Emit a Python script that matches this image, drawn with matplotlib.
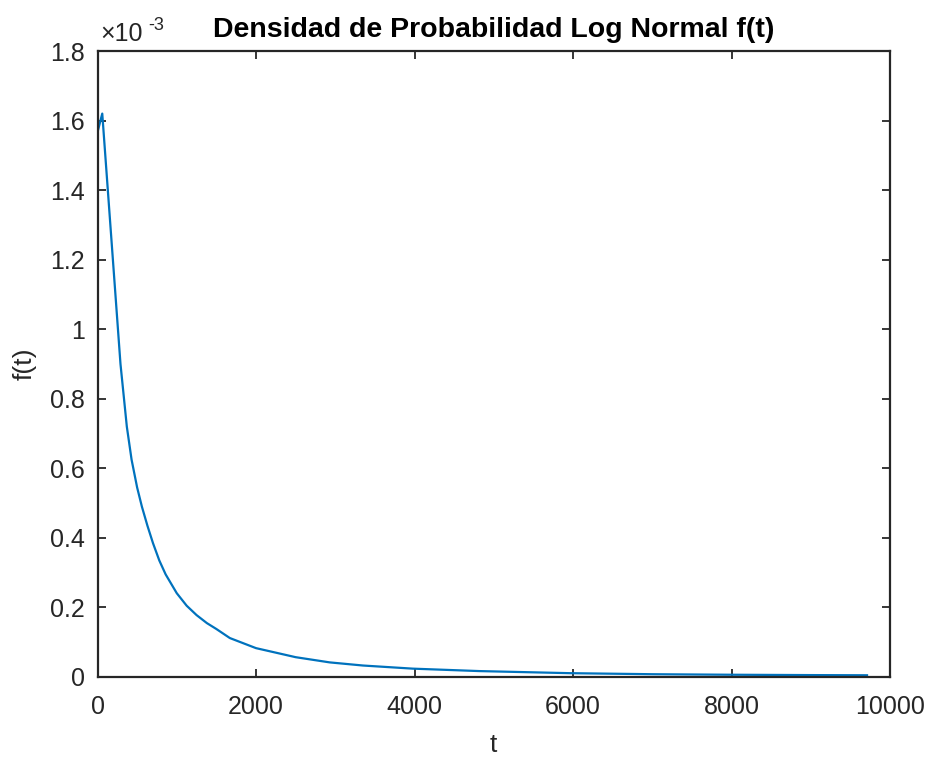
import matplotlib.pyplot as plt
from matplotlib import font_manager as fm
from matplotlib.ticker import FuncFormatter

# valores (f en unidades de 1e-3)
t = [0, 4, 60, 290, 330, 370, 430, 500, 560, 630, 700, 780, 860, 1000, 1125,
     1250, 1380, 1500, 1670, 2000, 2500, 2930, 3350, 3980, 4820, 5960, 7000,
     8000, 9000, 9710]
f_e3 = [0, 1.57, 1.62, 0.90, 0.81, 0.72, 0.625, 0.545, 0.49, 0.435, 0.385,
        0.335, 0.295, 0.241, 0.205, 0.178, 0.155, 0.138, 0.112, 0.083, 0.057,
        0.042, 0.033, 0.024, 0.017, 0.011, 0.008, 0.0065, 0.0055, 0.005]
f = [v * 1e-3 for v in f_e3]

xticks = [0, 2000, 4000, 6000, 8000, 10000]
yticks = [0, 0.2e-3, 0.4e-3, 0.6e-3, 0.8e-3, 1e-3, 1.2e-3, 1.4e-3, 1.6e-3, 1.8e-3]

# buscar Liberation Sans normal (no la Narrow)
def fuente(nombre):
    for p in fm.findSystemFonts():
        if p.endswith(nombre):
            return p
    return None

reg = fuente('LiberationSans-Regular.ttf')
neg = fuente('LiberationSans-Bold.ttf')
fp = fm.FontProperties(fname=reg) if reg else fm.FontProperties(family='Liberation Sans')
fpb = fm.FontProperties(fname=neg) if neg else fm.FontProperties(family='Liberation Sans', weight='bold')

gris = '#262626'

fig = plt.figure(figsize=(9.34, 7.58), dpi=100)
ax = fig.add_axes([97.5 / 934, 1 - 677 / 758, (890 - 97.5) / 934, (677 - 51) / 758])

ax.plot(t, f, color='#0072BD', lw=1.6)

ax.set_xlim(0, 10000)
ax.set_ylim(0, 1.8e-3)
ax.set_xticks(xticks)
ax.set_yticks(yticks)
ax.yaxis.set_major_formatter(FuncFormatter(lambda v, p: f'{v * 1e3:g}'))
ax.tick_params(direction='in', length=6, width=1.3, colors=gris,
               top=True, right=True, pad=9)
ax.tick_params(axis='x', pad=13)
for lbl in ax.get_xticklabels() + ax.get_yticklabels():
    lbl.set_fontproperties(fp)
    lbl.set_fontsize(18)
for s in ax.spines.values():
    s.set_color(gris)
    s.set_linewidth(1.6)

fig.text(100 / 934, 1 - 41 / 758, '×10', fontproperties=fp, fontsize=18,
         color=gris, ha='left', va='baseline')
fig.text(148 / 934, 1 - 30 / 758, '-3', fontproperties=fp, fontsize=13,
         color=gris, ha='left', va='baseline')

ax.set_title('Densidad de Probabilidad Log Normal f(t)', fontproperties=fpb,
             fontsize=20.5, color='black', pad=10)
ax.set_xlabel('t', fontproperties=fp, fontsize=19, color=gris, labelpad=10)
ax.set_ylabel('f(t)', fontproperties=fp, fontsize=19, color=gris, labelpad=10)

fig.savefig('out.png', dpi=100, facecolor='white')
